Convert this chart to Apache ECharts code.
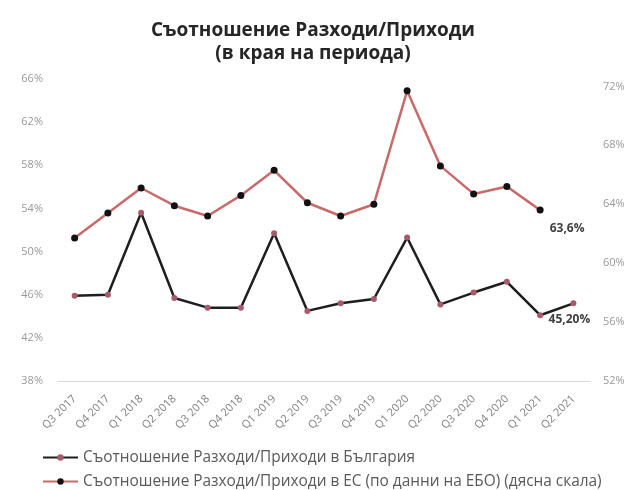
<!DOCTYPE html>
<html>
<head>
<meta charset="utf-8">
<script src="https://cdn.jsdelivr.net/npm/echarts@6/dist/echarts.min.js"></script>
<style>html,body{margin:0;padding:0;background:#fff}#c{width:643px;height:490px}</style>
</head>
<body>
<div id="c"></div>
<script>
const categories = ['Q3 2017','Q4 2017','Q1 2018','Q2 2018','Q3 2018','Q4 2018','Q1 2019','Q2 2019','Q3 2019','Q4 2019','Q1 2020','Q2 2020','Q3 2020','Q4 2020','Q1 2021','Q2 2021'];
const bulgaria = [45.9, 46.0, 53.6, 45.7, 44.8, 44.8, 51.7, 44.5, 45.2, 45.6, 51.3, 45.1, 46.2, 47.2, 44.1, 45.2];
const eu = [61.7, 63.4, 65.1, 63.9, 63.2, 64.6, 66.3, 64.1, 63.2, 64.0, 71.7, 66.6, 64.7, 65.2, 63.6, null];
const leftTicks = {min: 38, max: 66, step: 4};
const rightTicks = {min: 52, max: 72.5, step: 4};
const titleText = 'Съотношение Разходи/Приходи\n(в края на периода)';
const nameBg = 'Съотношение Разходи/Приходи в България';
const nameEu = 'Съотношение Разходи/Приходи в ЕС (по данни на ЕБО) (дясна скала)';

const FONT = '"Open Sans", sans-serif';
const chart = echarts.init(document.getElementById('c'), null, {renderer: 'canvas'});

const bgLast = bulgaria.length - 1;
let euLast = eu.length - 1; while (eu[euLast] == null) euLast--;

const bgData = bulgaria.map((v, i) => i === bgLast ? {value: v, label: {show: true, position: 'bottom', offset: [-4, 2], formatter: p => p.value.toFixed(2).replace('.', ',') + '%'}} : v);
const euData = eu.map((v, i) => i === euLast ? {value: v, label: {show: true, position: 'bottom', offset: [27, 4], formatter: p => p.value.toFixed(1).replace('.', ',') + '%'}} : v);

chart.setOption({
  backgroundColor: '#fff',
  animation: false,
  textStyle: {fontFamily: FONT},
  title: {
    text: titleText,
    left: 308,
    textAlign: 'center',
    top: 14,
    textStyle: {fontFamily: FONT, fontSize: 19, fontWeight: 'bold', color: '#262626', lineHeight: 23}
  },
  legend: {
    orient: 'vertical',
    left: 42,
    top: 450,
    height: 40,
    padding: 0,
    itemWidth: 35,
    itemHeight: 8,
    itemGap: 9,
    textStyle: {fontFamily: FONT, fontSize: 15.4, color: '#595959'},
    data: [nameBg, nameEu]
  },
  grid: {left: 58, right: 53, top: 79, bottom: 109, containLabel: false},
  xAxis: {
    type: 'category',
    data: categories,
    boundaryGap: true,
    axisLine: {show: true, lineStyle: {color: '#d9d9d9', width: 1}},
    axisTick: {show: false},
    axisLabel: {rotate: 45, interval: 0, margin: 16, fontSize: 11, color: '#7f7f7f', fontFamily: FONT}
  },
  yAxis: [
    {
      type: 'value', min: leftTicks.min, max: leftTicks.max, interval: leftTicks.step,
      axisLine: {show: false}, axisTick: {show: false}, splitLine: {show: false},
      axisLabel: {fontSize: 11, color: '#999999', margin: 15, fontFamily: FONT, formatter: '{value}%'}
    },
    {
      type: 'value', min: rightTicks.min, max: rightTicks.max, interval: rightTicks.step,
      position: 'right',
      axisLine: {show: false}, axisTick: {show: false}, splitLine: {show: false},
      axisLabel: {fontSize: 11, color: '#999999', margin: 13, fontFamily: FONT,
        formatter: v => ((v - rightTicks.min) % rightTicks.step === 0) ? v + '%' : ''}
    }
  ],
  series: [
    {
      name: nameBg, type: 'line', yAxisIndex: 0, data: bgData,
      symbol: 'circle', symbolSize: 6,
      lineStyle: {color: '#1e1e1e', width: 2.5},
      itemStyle: {color: '#a85a6c'},
      label: {fontFamily: FONT, fontSize: 12, fontWeight: 'bold', color: '#404040'},
      z: 3
    },
    {
      name: nameEu, type: 'line', yAxisIndex: 1, data: euData,
      symbol: 'circle', symbolSize: 7,
      lineStyle: {color: '#c86a6a', width: 2.5},
      itemStyle: {color: '#111111'},
      label: {fontFamily: FONT, fontSize: 12, fontWeight: 'bold', color: '#404040'},
      z: 2
    }
  ]
});
</script>
</body>
</html>
